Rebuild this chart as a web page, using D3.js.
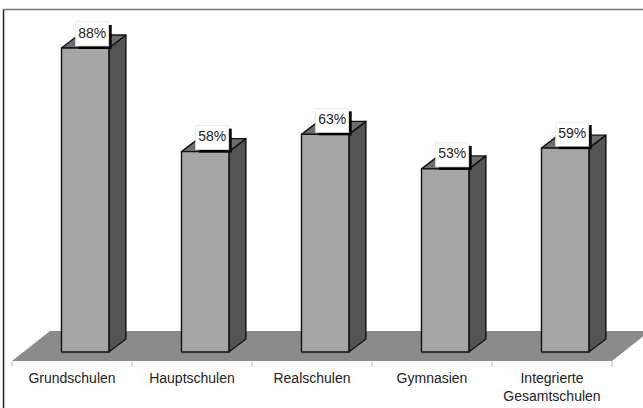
<!DOCTYPE html>
<html>
<head>
<meta charset="utf-8">
<script src="https://cdn.jsdelivr.net/npm/d3@7"></script>
<style>
  html, body { margin: 0; padding: 0; background: #fff; }
  svg { display: block; }
  text { font-family: "Liberation Sans", Arial, sans-serif; }
</style>
</head>
<body>
<svg id="chart" width="643" height="408"></svg>
<script>
// School types and share (%) per type
const categories = ["Grundschulen", "Hauptschulen", "Realschulen", "Gymnasien", "Integrierte Gesamtschulen"];
const categoryLines = [["Grundschulen"], ["Hauptschulen"], ["Realschulen"], ["Gymnasien"], ["Integrierte", "Gesamtschulen"]];
const values = [88, 58, 63, 53, 59];
const valueLabels = ["88%", "58%", "63%", "53%", "59%"];

const svg = d3.select("#chart");
const W = 643, H = 408;

// Frame around the chart area
svg.append("line").attr("x1", 3.5).attr("y1", 9.5).attr("x2", W).attr("y2", 9.5)
  .attr("stroke", "#7a7a7a").attr("stroke-width", 1.5);
svg.append("line").attr("x1", 3.5).attr("y1", 9.5).attr("x2", 3.5).attr("y2", H)
  .attr("stroke", "#222").attr("stroke-width", 1.5);

// Scales
const x = d3.scaleBand().domain(categories).range([12, 612]).paddingInner(0).paddingOuter(0);
const y = d3.scaleLinear().domain([0, 100]).range([352, 6.5]);
const bw = x.bandwidth();

// 3D offsets
const floorDx = 38, floorDy = -30;   // floor depth
const barDx = 17, barDy = -13;       // bar depth
const floorFront = 361;

// Floor
const [x0, x1] = x.range();
svg.append("path")
  .attr("d", `M${x0},${floorFront} L${x1},${floorFront} L${x1 + floorDx},${floorFront + floorDy} L${x0 + floorDx},${floorFront + floorDy} Z`)
  .attr("fill", "#8b8b8b");

// Category tick marks below the floor
const tickXs = categories.map(c => x(c)).concat([x1]);
svg.append("g").selectAll("line").data(tickXs).join("line")
  .attr("x1", d => d).attr("x2", d => d)
  .attr("y1", floorFront).attr("y2", floorFront + 6)
  .attr("stroke", "#bbb").attr("stroke-width", 1);

// Bars
const bars = categories.map((c, i) => {
  const bx = x(c) + bw * 0.4125;
  const bW = bw * 0.395;
  return { c, v: values[i], label: valueLabels[i], bx, bW, top: y(values[i]), bottom: y(0) };
});

const g = svg.append("g").attr("stroke", "#111").attr("stroke-width", 1.4).attr("stroke-linejoin", "round");

// Side face
g.selectAll("path.side").data(bars).join("path").attr("class", "side")
  .attr("d", d => {
    const r = d.bx + d.bW;
    return `M${r},${d.top} L${r + barDx},${d.top + barDy} L${r + barDx},${d.bottom + barDy} L${r},${d.bottom} Z`;
  })
  .attr("fill", "#545454");

// Top face
g.selectAll("path.top").data(bars).join("path").attr("class", "top")
  .attr("d", d => {
    const l = d.bx, r = d.bx + d.bW;
    return `M${l},${d.top} L${l + barDx},${d.top + barDy} L${r + barDx},${d.top + barDy} L${r},${d.top} Z`;
  })
  .attr("fill", "#6e6e6e");

// Front face
g.selectAll("rect.front").data(bars).join("rect").attr("class", "front")
  .attr("x", d => d.bx).attr("y", d => d.top)
  .attr("width", d => d.bW).attr("height", d => d.bottom - d.top)
  .attr("fill", "#a6a6a6");

// Value labels: white box with a black drop shadow
const boxW = 33, boxH = 24;
const lab = svg.append("g").selectAll("g").data(bars).join("g")
  .attr("transform", d => `translate(${d.bx + d.bW / 2 + 7 - boxW / 2},${d.top - 2 - boxH})`);
lab.append("rect").attr("x", 3).attr("y", 3).attr("width", boxW).attr("height", boxH).attr("fill", "#000");
lab.append("rect").attr("x", 0).attr("y", 0).attr("width", boxW).attr("height", boxH).attr("fill", "#fff")
  .attr("stroke", "#e6e6e6").attr("stroke-width", 0.8);
lab.append("text").attr("x", boxW / 2).attr("y", boxH - 8.4)
  .attr("text-anchor", "middle").attr("font-size", 14).attr("fill", "#222")
  .text(d => d.label);

// Category labels
const cl = svg.append("g").selectAll("text").data(categories).join("text")
  .attr("x", d => x(d) + bw / 2)
  .attr("y", 383)
  .attr("text-anchor", "middle")
  .attr("font-size", 14)
  .attr("fill", "#222");
cl.each(function(d, i) {
  d3.select(this).selectAll("tspan").data(categoryLines[i]).join("tspan")
    .attr("x", x(d) + bw / 2)
    .attr("dy", (t, j) => j === 0 ? 0 : 18)
    .text(t => t);
});
</script>
</body>
</html>
